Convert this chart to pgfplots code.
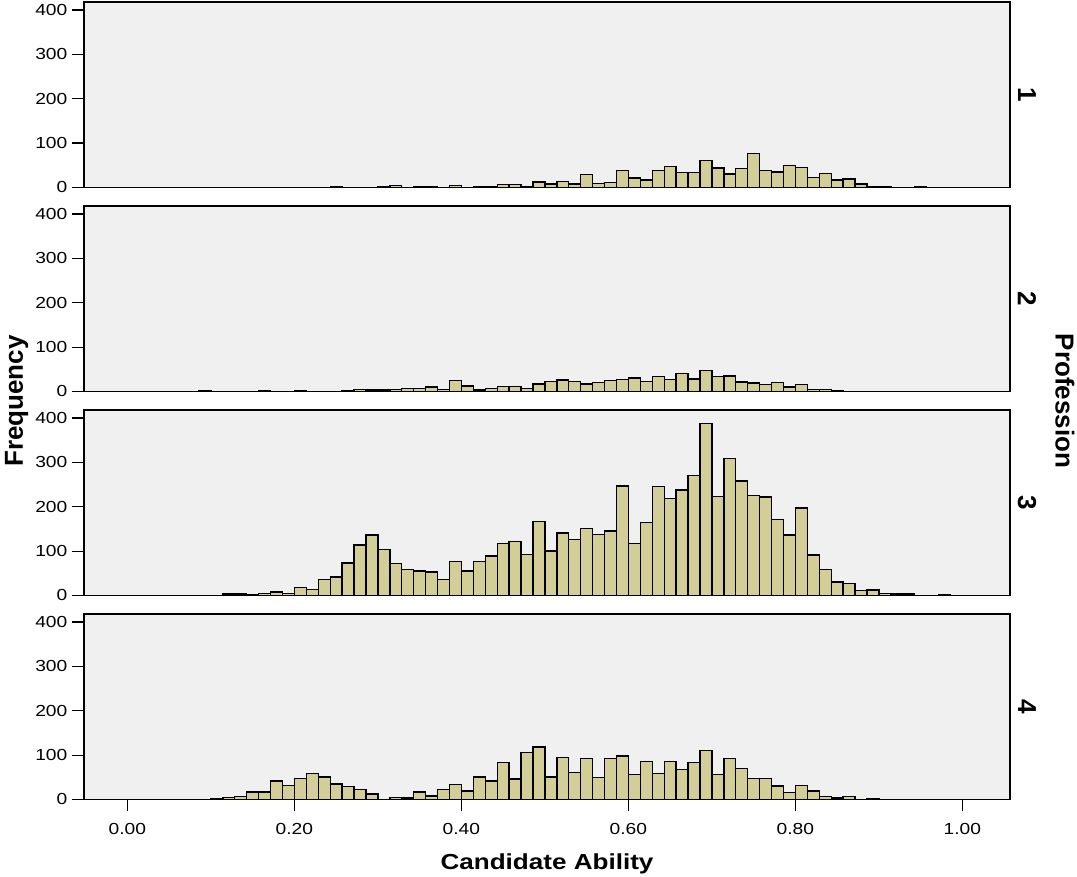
\documentclass[border=0pt]{standalone}
\usepackage{fontspec}
\setmainfont{Liberation Sans}[FakeStretch=1.2]
\newfontfamily\rotfont{Liberation Sans}
\usepackage{pgfplots}
\pgfplotsset{compat=1.18}
\definecolor{bgc}{HTML}{F0F0F0}
\definecolor{barc}{HTML}{D3CE97}
\pgfplotsset{
  panel/.style={
    scale only axis, width=694.5pt, height=139.1pt,
    xmin=-0.052, xmax=1.057, ymin=0, ymax=418,
    axis background/.style={fill=bgc},
    axis line style={black, line width=0.9pt},
    ytick={0,100,200,300,400}, yticklabels={0,100,200,300,400},
    xtick=\empty,
    tick align=outside, major tick length=9pt,
    tick style={black, line width=0.9pt},
    ytick pos=left, xtick pos=left,
    yticklabel style={font=\fontsize{12}{14}\selectfont},
    xticklabel style={font=\fontsize{12}{14}\selectfont},
    /pgf/number format/assume math mode=true,
  },
  bars/.style={ybar interval, fill=barc, draw=black, line width=1pt},
}
\begin{document}
\begin{tikzpicture}
\path[use as bounding box] (-63pt,1.5pt) rectangle (744.75pt,-656.25pt);
% Panel 1
\begin{axis}[panel, at={(0pt,0pt)}, anchor=north west]
\addplot[bars] coordinates {
(0.2429,1) (0.2571,0) (0.2714,0) (0.2857,0) (0.3,1) (0.3143,4) (0.3286,0) (0.3429,2) (0.3571,1) (0.3714,0) (0.3857,4) (0.4,0) (0.4143,1) (0.4286,2) (0.4429,6) (0.4571,6) (0.4714,2) (0.4857,12) (0.5,8) (0.5143,13) (0.5286,8) (0.5429,29) (0.5571,9) (0.5714,11) (0.5857,38) (0.6,21) (0.6143,17) (0.6286,38) (0.6429,48) (0.6571,34) (0.6714,33) (0.6857,61) (0.7,44) (0.7143,30) (0.7286,42) (0.7429,77) (0.7571,38) (0.7714,35) (0.7857,49) (0.8,45) (0.8143,23) (0.8286,31) (0.8429,17) (0.8571,19) (0.8714,8) (0.8857,2) (0.9,1) (0.9143,0) (0.9286,0) (0.9429,1) (0.9571,0)
};
\end{axis}
% Panel 2
\begin{axis}[panel, at={(0pt,-153pt)}, anchor=north west]
\addplot[bars] coordinates {
(0.0857,1) (0.1,0) (0.1143,0) (0.1286,0) (0.1429,0) (0.1571,1) (0.1714,0) (0.1857,0) (0.2,1) (0.2143,0) (0.2286,0) (0.2429,0) (0.2571,1) (0.2714,4) (0.2857,3) (0.3,3) (0.3143,4) (0.3286,7) (0.3429,6) (0.3571,10) (0.3714,4) (0.3857,25) (0.4,12) (0.4143,3) (0.4286,6) (0.4429,11) (0.4571,11) (0.4714,6) (0.4857,17) (0.5,23) (0.5143,26) (0.5286,23) (0.5429,17) (0.5571,20) (0.5714,25) (0.5857,27) (0.6,30) (0.6143,23) (0.6286,33) (0.6429,27) (0.6571,40) (0.6714,28) (0.6857,47) (0.7,33) (0.7143,35) (0.7286,21) (0.7429,19) (0.7571,16) (0.7714,20) (0.7857,10) (0.8,15) (0.8143,4) (0.8286,4) (0.8429,2) (0.8571,0)
};
\end{axis}
% Panel 3
\begin{axis}[panel, at={(0pt,-306pt)}, anchor=north west]
\addplot[bars] coordinates {
(0.1143,3) (0.1286,3) (0.1429,1) (0.1571,4) (0.1714,8) (0.1857,4) (0.2,18) (0.2143,14) (0.2286,36) (0.2429,42) (0.2571,73) (0.2714,114) (0.2857,136) (0.3,103) (0.3143,72) (0.3286,59) (0.3429,55) (0.3571,53) (0.3714,36) (0.3857,77) (0.4,55) (0.4143,76) (0.4286,89) (0.4429,117) (0.4571,122) (0.4714,93) (0.4857,166) (0.5,100) (0.5143,141) (0.5286,126) (0.5429,151) (0.5571,137) (0.5714,145) (0.5857,247) (0.6,117) (0.6143,165) (0.6286,245) (0.6429,219) (0.6571,238) (0.6714,270) (0.6857,388) (0.7,223) (0.7143,308) (0.7286,258) (0.7429,225) (0.7571,222) (0.7714,171) (0.7857,136) (0.8,197) (0.8143,91) (0.8286,59) (0.8429,30) (0.8571,27) (0.8714,11) (0.8857,12) (0.9,5) (0.9143,3) (0.9286,3) (0.9429,0) (0.9571,0) (0.9714,2) (0.9857,0)
};
\end{axis}
% Panel 4
\begin{axis}[panel, at={(0pt,-459pt)}, anchor=north west,
  xtick={0,0.2,0.4,0.6,0.8,1},
  xticklabels={0.00,0.20,0.40,0.60,0.80,1.00},
  xticklabel shift=5pt]
\addplot[bars] coordinates {
(0.1,1) (0.1143,4) (0.1286,6) (0.1429,17) (0.1571,17) (0.1714,42) (0.1857,31) (0.2,48) (0.2143,58) (0.2286,51) (0.2429,35) (0.2571,29) (0.2714,23) (0.2857,12) (0.3,0) (0.3143,5) (0.3286,3) (0.3429,17) (0.3571,8) (0.3714,23) (0.3857,34) (0.4,19) (0.4143,51) (0.4286,42) (0.4429,83) (0.4571,46) (0.4714,106) (0.4857,118) (0.5,51) (0.5143,95) (0.5286,61) (0.5429,93) (0.5571,49) (0.5714,92) (0.5857,98) (0.6,56) (0.6143,85) (0.6286,58) (0.6429,85) (0.6571,67) (0.6714,83) (0.6857,111) (0.7,56) (0.7143,92) (0.7286,70) (0.7429,47) (0.7571,47) (0.7714,30) (0.7857,15) (0.8,32) (0.8143,19) (0.8286,7) (0.8429,3) (0.8571,7) (0.8714,0) (0.8857,1) (0.9,0)
};
\end{axis}
% Labels
\node[rotate=90, font={\rotfont\fontsize{19.5}{22}\selectfont\bfseries}] at (-50.5pt,-299.25pt) {Frequency};
\node[rotate=-90, font={\rotfont\fontsize{19.5}{22}\selectfont\bfseries}] at (735.75pt,-299.25pt) {Profession};
\node[anchor=base, font={\fontsize{16.3}{19}\selectfont\bfseries}] at (347.25pt,-650.25pt) {Candidate Ability};
\foreach \i/\y in {1/-69.6pt, 2/-222.6pt, 3/-375.6pt, 4/-528.6pt}{
  \node[rotate=-90, font={\rotfont\fontsize{19.5}{22}\selectfont\bfseries}] at (707.25pt,\y) {\i};
}
\end{tikzpicture}
\end{document}
